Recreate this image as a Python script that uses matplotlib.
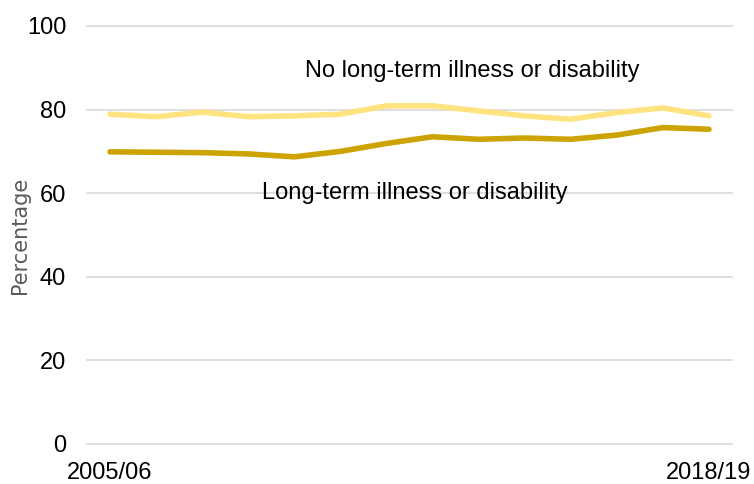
import matplotlib
matplotlib.use("Agg")
import matplotlib.pyplot as plt

years = ["2005/06", "2006/07", "2007/08", "2008/09", "2009/10", "2010/11", "2011/12",
         "2012/13", "2013/14", "2014/15", "2015/16", "2016/17", "2017/18", "2018/19"]
no_illness = [78.9, 78.3, 79.4, 78.3, 78.5, 78.9, 80.9, 80.9, 79.7, 78.5, 77.7, 79.3, 80.4, 78.5]
illness = [69.9, 69.8, 69.7, 69.4, 68.7, 70.0, 71.9, 73.5, 72.9, 73.2, 72.9, 73.9, 75.7, 75.3]
yticks = [0, 20, 40, 60, 80, 100]

plt.rcParams['font.family'] = ['Liberation Sans', 'DejaVu Sans']

fig = plt.figure(figsize=(7.54, 4.84), dpi=100)
ax = fig.add_axes([87/754, 1-444/484, (732-87)/754, (444-26)/484])

x = list(range(len(years)))
for t in yticks:
    ax.axhline(t, color="#d9d9d9", lw=1.2, zorder=0, clip_on=False)

ax.plot(x, no_illness, color="#FFE380", lw=4, solid_capstyle="round", zorder=3)
ax.plot(x, illness, color="#CCA300", lw=4, solid_capstyle="round", zorder=3)

ax.set_xlim(-0.5, len(years) - 0.5)
ax.set_ylim(0, 100)
ax.set_yticks(yticks)
ax.set_yticklabels([str(t) for t in yticks], fontsize=17)
ax.set_xticks([0, len(years) - 1])
ax.set_xticklabels([years[0], years[-1]], fontsize=17)
ax.tick_params(axis='y', length=0, pad=15)
ax.tick_params(axis='x', length=0, pad=13)
for s in ax.spines.values():
    s.set_visible(False)

ax.set_ylabel("Percentage", fontsize=15, color="#595959", family=["DejaVu Sans"], labelpad=-2)

ax.text(7.87, 89.2, "No long-term illness or disability", fontsize=17, ha="center", va="center")
ax.text(6.62, 60.0, "Long-term illness or disability", fontsize=17, ha="center", va="center")

fig.savefig("out.png", dpi=100)
